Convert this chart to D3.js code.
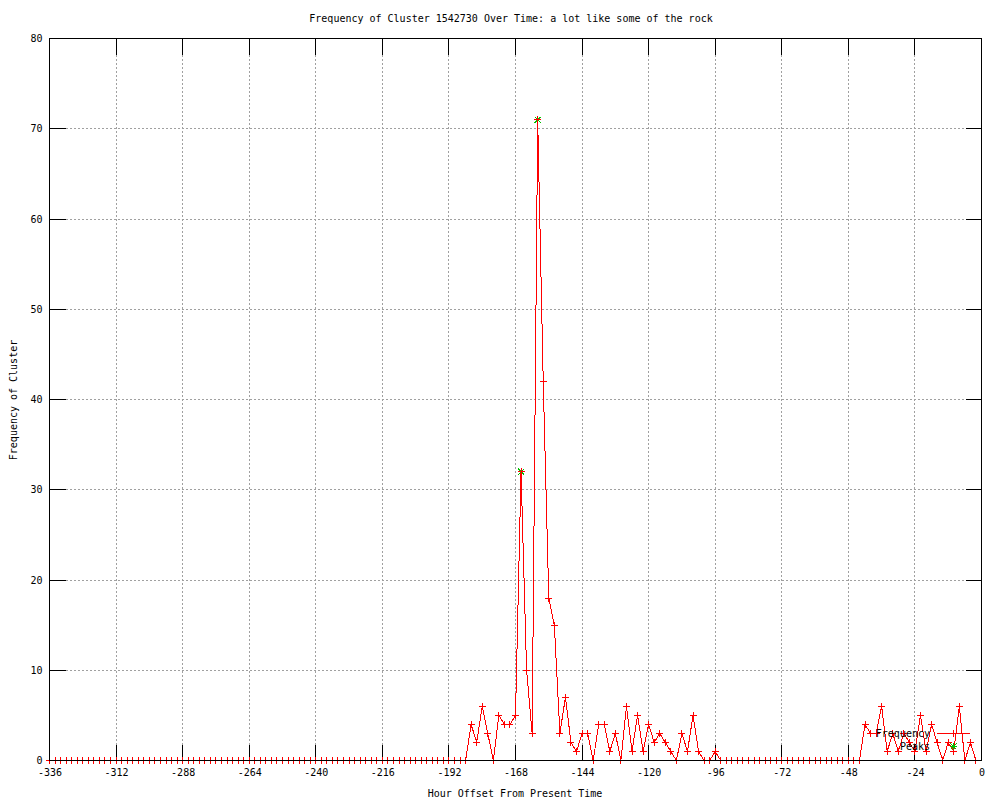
<!DOCTYPE html>
<html>
<head>
<meta charset="utf-8">
<script src="https://cdn.jsdelivr.net/npm/d3@7"></script>
<style>
  html, body { margin: 0; padding: 0; background: #fff; }
  text { font-family: "DejaVu Sans Mono", "Liberation Mono", monospace; font-size: 10px; fill: #000; }
</style>
</head>
<body>
<svg id="chart" width="1000" height="800"></svg>
<script>
// ---- data ----
const title = "Frequency of Cluster 1542730 Over Time: a lot like some of the rock";
const xLabel = "Hour Offset From Present Time";
const yLabel = "Frequency of Cluster";
const xTicks = [-336, -312, -288, -264, -240, -216, -192, -168, -144, -120, -96, -72, -48, -24, 0];
const yTicks = [0, 10, 20, 30, 40, 50, 60, 70, 80];
const hours = d3.range(-336, 0, 2); // one bin every 2 hours, -336 .. -2
const frequency = [
  0,0,0,0,0,0,0,0,0,0, 0,0,0,0,0,0,0,0,0,0,
  0,0,0,0,0,0,0,0,0,0, 0,0,0,0,0,0,0,0,0,0,
  0,0,0,0,0,0,0,0,0,0, 0,0,0,0,0,0,0,0,0,0,
  0,0,0,0,0,0,0,0,0,0, 0,0,0,0,0,0,          // -336 .. -186
  4,2,6,3,0,5,4,4,5,32,                      // -184 .. -166
  10,3,71,42,18,15,3,7,2,1,                  // -164 .. -146
  3,3,0,4,4,1,3,0,6,1,                       // -144 .. -126
  5,1,4,2,3,2,1,0,3,1,                       // -124 .. -106
  5,1,0,0,1,                                 // -104 .. -96
  0,0,0,0,0,0,0,0,0,0, 0,0,0,0,0,0,0,0,0,0,
  0,0,0,0,0,0,                               // -94 .. -44
  4,3,3,6,1,3,1,3,2,1,                       // -42 .. -24
  5,1,4,2,0,2,1,6,0,2,0                      // -22 .. -2
];
const peakHours = [-166, -160];
const peakValues = [32, 71];
const seriesNames = ["Frequency", "Peaks"];

// ---- drawing ----
const svg = d3.select("#chart");
const L = 49.5, R = 981.5, T = 38.5, B = 760.5;
const x = d3.scaleLinear().domain([-336, 0]).range([L, R]);
const y = d3.scaleLinear().domain([0, 80]).range([B, T]);
const red = "#ff0000", green = "#00c000", grid = "#a0a0a0";

// grid
const g = svg.append("g").attr("shape-rendering", "crispEdges");
g.selectAll(".vg").data(xTicks.filter(d => d !== -336 && d !== 0)).join("line")
  .attr("x1", d => x(d)).attr("x2", d => x(d)).attr("y1", T).attr("y2", B)
  .attr("stroke", grid).attr("stroke-dasharray", "2,2");
g.selectAll(".hg").data(yTicks.filter(d => d !== 0 && d !== 80)).join("line")
  .attr("x1", L).attr("x2", R).attr("y1", d => y(d)).attr("y2", d => y(d))
  .attr("stroke", grid).attr("stroke-dasharray", "2,2");

// tick marks (inside, mirrored)
const tl = 16;
const tk = svg.append("g").attr("shape-rendering", "crispEdges").attr("stroke", "#000");
xTicks.forEach(d => {
  tk.append("line").attr("x1", x(d)).attr("x2", x(d)).attr("y1", B).attr("y2", B - tl);
  tk.append("line").attr("x1", x(d)).attr("x2", x(d)).attr("y1", T).attr("y2", T + tl);
});
yTicks.forEach(d => {
  tk.append("line").attr("x1", L).attr("x2", L + tl).attr("y1", y(d)).attr("y2", y(d));
  tk.append("line").attr("x1", R).attr("x2", R - tl).attr("y1", y(d)).attr("y2", y(d));
});

// data line
const pts = hours.map((h, i) => [h, frequency[i]]);
svg.append("path").datum(pts)
  .attr("fill", "none").attr("stroke", red).attr("stroke-width", 1)
  .attr("shape-rendering", "crispEdges")
  .attr("d", d3.line().x(d => x(d[0])).y(d => y(d[1])));

// peak stars (green)
function star(sel, cx, cy) {
  const s = 3;
  sel.append("line").attr("x1", cx - s).attr("x2", cx + s).attr("y1", cy - s).attr("y2", cy + s).attr("stroke", green);
  sel.append("line").attr("x1", cx - s).attr("x2", cx + s).attr("y1", cy + s).attr("y2", cy - s).attr("stroke", green);
}
function plus(sel, cx, cy, col) {
  const s = 3.5;
  sel.append("line").attr("x1", cx - s).attr("x2", cx + s).attr("y1", cy).attr("y2", cy).attr("stroke", col);
  sel.append("line").attr("x1", cx).attr("x2", cx).attr("y1", cy - s).attr("y2", cy + s).attr("stroke", col);
}
const mk = svg.append("g").attr("shape-rendering", "crispEdges");
peakHours.forEach((h, i) => { star(mk, x(h), y(peakValues[i])); plus(mk, x(h), y(peakValues[i]), green); });
pts.forEach(d => plus(mk, x(d[0]), y(d[1]), red));

// border
svg.append("rect").attr("x", L).attr("y", T).attr("width", R - L).attr("height", B - T)
  .attr("fill", "none").attr("stroke", "#000").attr("shape-rendering", "crispEdges");

// axes labels via d3 axes
const xa = svg.append("g").attr("transform", `translate(0,${B + 8})`)
  .call(d3.axisBottom(x).tickValues(xTicks).tickSize(0).tickPadding(0).tickFormat(d => String(d)));
xa.select(".domain").remove();
xa.selectAll("text").attr("font-family", "DejaVu Sans Mono").attr("font-size", 10).attr("fill", "#000").attr("dy", "0.75em");

const ya = svg.append("g").attr("transform", `translate(${L - 7},0)`)
  .call(d3.axisLeft(y).tickValues(yTicks).tickSize(0).tickPadding(0).tickFormat(d => String(d)));
ya.select(".domain").remove();
ya.selectAll("text").attr("font-family", "DejaVu Sans Mono").attr("font-size", 10).attr("fill", "#000");

// titles
svg.append("text").attr("x", 511).attr("y", 22).attr("text-anchor", "middle").text(title);
svg.append("text").attr("x", 515).attr("y", 797).attr("text-anchor", "middle").text(xLabel);
svg.append("text").attr("transform", "translate(17,400) rotate(-90)").attr("text-anchor", "middle").text(yLabel);

// legend
const lgX = 930, lgY = 733;
svg.append("text").attr("x", lgX).attr("y", lgY).attr("dy", "0.35em").attr("text-anchor", "end").text(seriesNames[0]);
svg.append("line").attr("x1", 937).attr("x2", 970).attr("y1", lgY + 0.5).attr("y2", lgY + 0.5)
  .attr("stroke", red).attr("shape-rendering", "crispEdges");
plus(mk.append("g"), 953.5, lgY + 0.5, red);
svg.append("text").attr("x", lgX).attr("y", lgY + 13).attr("dy", "0.35em").attr("text-anchor", "end").text(seriesNames[1]);
star(svg.append("g").attr("shape-rendering", "crispEdges"), 953.5, lgY + 13.5);
plus(svg.append("g").attr("shape-rendering", "crispEdges"), 953.5, lgY + 13.5, green);
</script>
</body>
</html>
